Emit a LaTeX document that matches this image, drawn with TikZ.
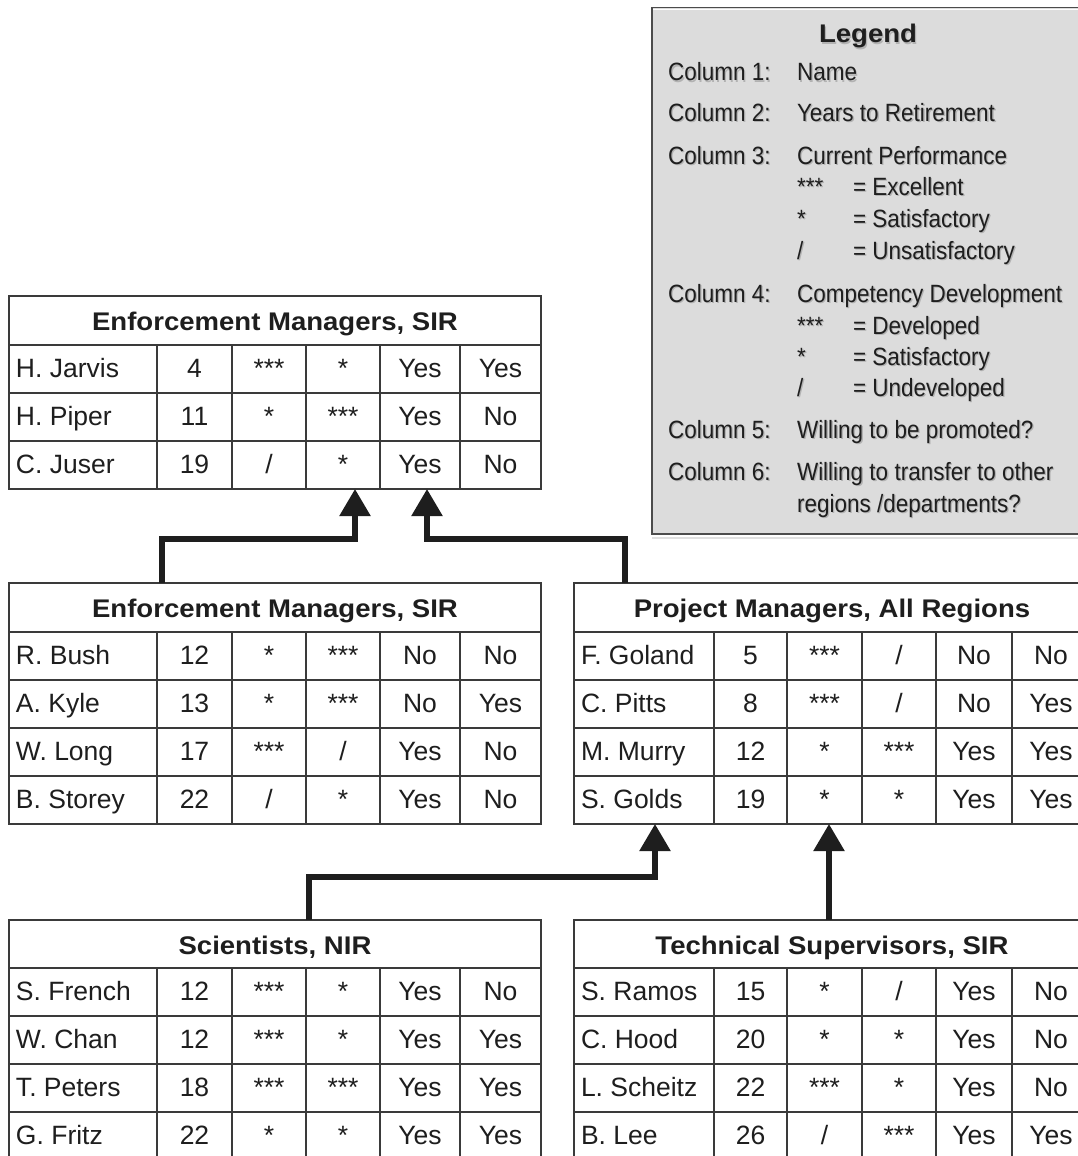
\documentclass[tikz,border=0pt]{standalone}
\usepackage{fontspec}
\setmainfont{Liberation Sans}
\newfontfamily\cellfont{Liberation Sans}
\newfontfamily\headfont[FakeStretch=1.08]{Liberation Sans}
\newfontfamily\legfont[FakeStretch=0.9]{Liberation Sans}
\usetikzlibrary{arrows.meta}

\definecolor{ink}{HTML}{1E1E1E}
\definecolor{rule}{HTML}{3A3A3A}
\definecolor{legendfill}{HTML}{DCDCDC}

% text with a soft drop shadow, used in the key box
\newcommand\shadowed[1]{\leavevmode\rlap{\kern1.3pt\raisebox{-1.3pt}{\color{black!30}#1}}#1}

% column edges of the table being drawn
\newcommand\setcols[7]{\def\ea{#1}\def\eb{#2}\def\ec{#3}\def\ed{#4}\def\ee{#5}\def\ef{#6}\def\eg{#7}}

\tikzset{
  every node/.style={inner sep=0pt, outer sep=0pt},
  tableframe/.style={draw=rule, line width=1.4pt, fill=white},
  gridline/.style={draw=rule, line width=1.4pt},
  cell/.style={font=\cellfont\fontsize{26.5}{30}\selectfont, text=ink, anchor=base},
  namecell/.style={cell, anchor=base west},
  tabletitle/.style={font=\headfont\bfseries\fontsize{25.5}{30}\selectfont, text=ink, anchor=base},
  flow/.style={line width=5.5pt, draw=ink, line join=miter, -{Triangle[width=30pt,length=27pt]}},
  legbox/.style={draw=black!70, line width=1.2pt, fill=legendfill},
  legtext/.style={font=\legfont\fontsize{25}{30}\selectfont, text=ink, anchor=base west},
  legtitle/.style={font=\headfont\bfseries\fontsize{25.5}{30}\selectfont, text=ink, anchor=base},
}

% \drawframe{name}{top}{header bottom}{row separators}{title}{bottom}
\newcommand\drawframe[6]{%
  \node[tableframe, anchor=north west, minimum width={\eg-\ea}, minimum height={#6-#2}] (#1) at (\ea,#2) {};
  \draw[gridline] (\ea,#3) -- (\eg,#3);
  \foreach \yy in {#4} \draw[gridline] (\ea,\yy) -- (\eg,\yy);
  \foreach \xx in {\eb,\ec,\ed,\ee,\ef} \draw[gridline] (\xx,#3) -- (\xx,#6);
  \node[tabletitle] (#1-title) at ({(\ea+\eg)/2},#2+34) {#5};
}

% \trow{table}{row}{row top}{name}{years}{performance}{competency}{promotion}{transfer}
\newcommand\trow[9]{%
  \node[namecell] (#1-#2-1) at (\ea+7,#3+32) {#4};
  \node[cell] (#1-#2-2) at ({(\eb+\ec)/2},#3+32) {#5};
  \node[cell] (#1-#2-3) at ({(\ec+\ed)/2},#3+32) {#6};
  \node[cell] (#1-#2-4) at ({(\ed+\ee)/2},#3+32) {#7};
  \node[cell] (#1-#2-5) at ({(\ee+\ef)/2},#3+32) {#8};
  \node[cell] (#1-#2-6) at ({(\ef+\eg)/2},#3+32) {#9};
}

\begin{document}
\begin{tikzpicture}[x=1pt,y=-1pt]
\useasboundingbox (0,0) rectangle (1078,1156);
\clip (0,0) rectangle (1078,1156);
\fill[white] (0,0) rectangle (1078,1156);

% ---------- key box ----------
\draw[black!12, line width=2pt] (652,537.5) -- (1090,537.5);
\node[legbox, anchor=north west, minimum width=440, minimum height=526.5] (legend) at (652,7.5) {};
\draw[white, line width=1pt] (653,10) -- (1090,10);

\node[legtitle] (lg-title) at (868,43) {\shadowed{Legend}};
\node[legtext] (lg-c1) at (668,81)  {\shadowed{Column 1:}};
\node[legtext] (lg-v1) at (797,81)  {\shadowed{Name}};
\node[legtext] (lg-c2) at (668,121) {\shadowed{Column 2:}};
\node[legtext] (lg-v2) at (797,121) {\shadowed{Years to Retirement}};
\node[legtext] (lg-c3) at (668,164) {\shadowed{Column 3:}};
\node[legtext] (lg-v3) at (797,164) {\shadowed{Current Performance}};
\node[legtext] (lg-p1s) at (797,195) {\shadowed{***}};
\node[legtext] (lg-p1)  at (853,195) {\shadowed{= Excellent}};
\node[legtext] (lg-p2s) at (797,227) {\shadowed{*}};
\node[legtext] (lg-p2)  at (853,227) {\shadowed{= Satisfactory}};
\node[legtext] (lg-p3s) at (797,259) {\shadowed{/}};
\node[legtext] (lg-p3)  at (853,259) {\shadowed{= Unsatisfactory}};
\node[legtext] (lg-c4) at (668,302) {\shadowed{Column 4:}};
\node[legtext] (lg-v4) at (797,302) {\shadowed{Competency Development}};
\node[legtext] (lg-d1s) at (797,334) {\shadowed{***}};
\node[legtext] (lg-d1)  at (853,334) {\shadowed{= Developed}};
\node[legtext] (lg-d2s) at (797,365) {\shadowed{*}};
\node[legtext] (lg-d2)  at (853,365) {\shadowed{= Satisfactory}};
\node[legtext] (lg-d3s) at (797,396) {\shadowed{/}};
\node[legtext] (lg-d3)  at (853,396) {\shadowed{= Undeveloped}};
\node[legtext] (lg-c5) at (668,438) {\shadowed{Column 5:}};
\node[legtext] (lg-v5) at (797,438) {\shadowed{Willing to be promoted?}};
\node[legtext] (lg-c6) at (668,480) {\shadowed{Column 6:}};
\node[legtext] (lg-v6) at (797,480) {\shadowed{Willing to transfer to other}};
\node[legtext] (lg-v6b) at (797,512) {\shadowed{regions /departments?}};

% ---------- Enforcement Managers, SIR (upper) ----------
\setcols{9}{157}{232}{306}{380}{460}{541}
\drawframe{emA}{296}{345}{393,441}{Enforcement Managers, SIR}{489}
\trow{emA}{1}{345}{H. Jarvis}{4}{***}{*}{Yes}{Yes}
\trow{emA}{2}{393}{H. Piper}{11}{*}{***}{Yes}{No}
\trow{emA}{3}{441}{C. Juser}{19}{/}{*}{Yes}{No}

% ---------- Enforcement Managers, SIR (lower) ----------
\drawframe{emB}{583}{632}{680,728,776}{Enforcement Managers, SIR}{824}
\trow{emB}{1}{632}{R. Bush}{12}{*}{***}{No}{No}
\trow{emB}{2}{680}{A. Kyle}{13}{*}{***}{No}{Yes}
\trow{emB}{3}{728}{W. Long}{17}{***}{/}{Yes}{No}
\trow{emB}{4}{776}{B. Storey}{22}{/}{*}{Yes}{No}

% ---------- Scientists, NIR ----------
\drawframe{sci}{920}{968}{1016,1064,1112}{Scientists, NIR}{1160}
\trow{sci}{1}{968}{S. French}{12}{***}{*}{Yes}{No}
\trow{sci}{2}{1016}{W. Chan}{12}{***}{*}{Yes}{Yes}
\trow{sci}{3}{1064}{T. Peters}{18}{***}{***}{Yes}{Yes}
\trow{sci}{4}{1112}{G. Fritz}{22}{*}{*}{Yes}{Yes}

% ---------- Project Managers, All Regions ----------
\setcols{574}{714}{787}{862}{936}{1012}{1090}
\drawframe{pm}{583}{632}{680,728,776}{Project Managers, All Regions}{824}
\trow{pm}{1}{632}{F. Goland}{5}{***}{/}{No}{No}
\trow{pm}{2}{680}{C. Pitts}{8}{***}{/}{No}{Yes}
\trow{pm}{3}{728}{M. Murry}{12}{*}{***}{Yes}{Yes}
\trow{pm}{4}{776}{S. Golds}{19}{*}{*}{Yes}{Yes}

% ---------- Technical Supervisors, SIR ----------
\drawframe{ts}{920}{968}{1016,1064,1112}{Technical Supervisors, SIR}{1160}
\trow{ts}{1}{968}{S. Ramos}{15}{*}{/}{Yes}{No}
\trow{ts}{2}{1016}{C. Hood}{20}{*}{*}{Yes}{No}
\trow{ts}{3}{1064}{L. Scheitz}{22}{***}{*}{Yes}{No}
\trow{ts}{4}{1112}{B. Lee}{26}{/}{***}{Yes}{Yes}

% ---------- succession paths ----------
\coordinate (emA-in1) at (355,489);
\coordinate (emA-in2) at (427,489);
\coordinate (emB-out) at (162,583);
\coordinate (pm-out)  at (625,583);
\coordinate (pm-in1)  at (655,824);
\coordinate (pm-in2)  at (829,824);
\coordinate (sci-out) at (309,920);
\coordinate (ts-out)  at (829,920);

\draw[flow] (emB-out) -- ++(0,-44) -| (emA-in1);
\draw[flow] (pm-out)  -- ++(0,-44) -| (emA-in2);
\draw[flow] (sci-out) -- ++(0,-43) -| (pm-in1);
\draw[flow] (ts-out) -- (pm-in2);
\end{tikzpicture}
\end{document}
